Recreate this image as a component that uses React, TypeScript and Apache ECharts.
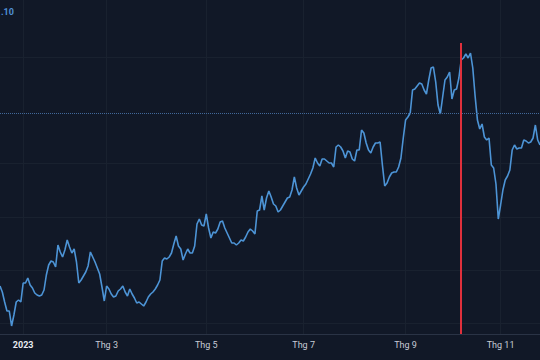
import React, { useEffect, useRef } from "react";
import * as echarts from "echarts";

// Closing values per trading session
const closes = [
  1038.4, 1033.6, 1025.6, 1018.4, 1018.4, 1006.4, 1015.2, 1025.6, 1027.2, 1025.6,
  1040.8, 1040.8, 1044.8, 1039.2, 1036.8, 1032.8, 1031.2, 1030.4, 1031.2, 1035.2,
  1047.2, 1055.2, 1058.4, 1057.6, 1053.6, 1071.2, 1065.6, 1061.6, 1067.2, 1075.2,
  1069.6, 1064.8, 1068.0, 1057.6, 1040.8, 1043.2, 1046.4, 1049.6, 1054.4, 1065.6,
  1061.6, 1057.6, 1052.8, 1048.0, 1037.6, 1026.4, 1038.4, 1036.0, 1032.0, 1029.6,
  1030.4, 1034.4, 1036.0, 1038.4, 1033.6, 1030.4, 1036.0, 1032.0, 1028.8, 1024.8,
  1025.6, 1024.0, 1022.4, 1025.6, 1029.6, 1032.0, 1033.6, 1036.0, 1039.2, 1043.2,
  1058.4, 1060.8, 1060.0, 1061.6, 1064.8, 1072.0, 1078.4, 1070.4, 1068.0, 1059.2,
  1064.0, 1068.0, 1064.8, 1064.8, 1070.4, 1088.0, 1092.0, 1087.2, 1086.4, 1096.0,
  1084.8, 1076.8, 1081.6, 1080.8, 1084.0, 1089.6, 1090.4, 1084.8, 1080.8, 1076.8,
  1072.8, 1072.8, 1071.2, 1072.8, 1075.2, 1074.4, 1077.6, 1081.6, 1084.0, 1082.4,
  1080.0, 1098.4, 1099.2, 1110.4, 1099.2, 1108.8, 1114.4, 1109.6, 1104.0, 1102.4,
  1097.6, 1099.2, 1102.4, 1105.6, 1108.8, 1109.6, 1115.2, 1125.6, 1116.8, 1111.2,
  1114.4, 1117.6, 1120.0, 1124.0, 1128.0, 1132.8, 1140.8, 1136.8, 1134.4, 1140.0,
  1140.0, 1138.4, 1136.8, 1136.8, 1133.6, 1149.6, 1151.2, 1149.6, 1146.4, 1140.8,
  1146.4, 1145.6, 1140.0, 1138.4, 1147.2, 1147.2, 1163.2, 1160.8, 1152.8, 1147.2,
  1144.8, 1149.6, 1152.8, 1152.8, 1153.6, 1135.2, 1118.4, 1120.8, 1125.6, 1128.8,
  1129.6, 1129.6, 1133.6, 1140.8, 1156.8, 1171.2, 1173.6, 1176.8, 1195.2, 1196.0,
  1198.4, 1200.8, 1200.0, 1195.2, 1192.0, 1203.2, 1212.8, 1213.6, 1201.6, 1183.2,
  1176.0, 1189.6, 1203.2, 1205.6, 1209.6, 1188.0, 1195.2, 1196.0, 1204.8, 1219.2,
  1220.8, 1224.0, 1220.8, 1224.8, 1212.8, 1190.4, 1171.2, 1164.0, 1168.0, 1157.6,
  1155.2, 1156.8, 1135.2, 1132.8, 1120.0, 1092.0, 1103.2, 1115.2, 1123.2, 1126.4,
  1131.2, 1147.2, 1151.2, 1148.0, 1148.8, 1148.8, 1155.2, 1154.4, 1152.8, 1153.6,
  1156.8, 1167.2, 1155.2, 1151.2,
];

const sessions = closes.map((_, i) => String(i));

// Month tick labels and the session index at which each one sits
const tickSessions = [10, 46, 89, 131, 175, 216];
const tickLabels = ["2023", "Thg 3", "Thg 5", "Thg 7", "Thg 9", "Thg 11"];

const axisMin = 1000;
const axisMax = 1267.2;
const referenceLevel = 1176.8;
const gridLevels = [1008.8, 1051.2, 1093.6, 1136.8, 1221.6];
const eventSession = 199;
const eventTop = 1232.8;
const headerText = ".10";

export default function App() {
  const ref = useRef<HTMLDivElement>(null);

  useEffect(() => {
    if (!ref.current) return;
    const chart = echarts.init(ref.current, null, { renderer: "svg" });
    const isTick = (i: number) => tickSessions.includes(i);
    chart.setOption({
      animation: false,
      backgroundColor: "#111827",
      grid: { left: 0, right: 0, top: 0, bottom: 26, containLabel: false },
      graphic: [
        {
          type: "text",
          left: 1,
          top: 7,
          style: {
            text: headerText,
            fill: "#4f8fd4",
            font: "bold 9px Roboto",
          },
        },
      ],
      xAxis: {
        type: "category",
        data: sessions,
        boundaryGap: false,
        z: 0,
        axisLine: { show: true, lineStyle: { color: "#2a3345", width: 1 } },
        axisTick: { show: false },
        axisLabel: {
          interval: (i: number) => isTick(i),
          margin: 6,
          formatter: (v: string) => {
            const k = tickSessions.indexOf(Number(v));
            if (k < 0) return "";
            return k === 0 ? `{y|${tickLabels[k]}}` : `{m|${tickLabels[k]}}`;
          },
          rich: {
            y: { color: "#e8eaf0", fontWeight: "bold", fontSize: 9, fontFamily: "Roboto" },
            m: { color: "#c8ccd6", fontSize: 9, fontFamily: "Roboto" },
          },
        },
        splitLine: {
          show: true,
          interval: (i: number) => isTick(i),
          lineStyle: { color: "#19212f", width: 1 },
        },
      },
      yAxis: {
        type: "value",
        min: axisMin,
        max: axisMax,
        show: false,
        splitLine: { show: false },
      },
      series: [
        {
          type: "line",
          name: "grid",
          data: [],
          z: 0,
          silent: true,
          symbol: "none",
          markLine: {
            z: 0,
            silent: true,
            symbol: ["none", "none"],
            label: { show: false },
            animation: false,
            data: gridLevels.map((v) => ({
              yAxis: v,
              lineStyle: { color: "#19212f", width: 1, type: "solid" },
            })),
          },
        },
        {
          type: "line",
          name: "close",
          data: closes,
          z: 3,
          symbol: "none",
          lineStyle: { color: "#4d94d6", width: 1.6 },
          markLine: {
            z: 4,
            silent: true,
            symbol: ["none", "none"],
            label: { show: false },
            animation: false,
            data: [
              {
                yAxis: referenceLevel,
                lineStyle: { color: "#41689a", width: 1, type: "dotted" },
              },
              [
                {
                  xAxis: String(eventSession),
                  yAxis: eventTop,
                  lineStyle: { color: "#e0303c", width: 2, type: "solid" },
                },
                { xAxis: String(eventSession), yAxis: axisMin },
              ],
            ],
          },
        },
      ],
    });
    return () => chart.dispose();
  }, []);

  return (
    <div
      ref={ref}
      style={{ position: "fixed", left: 0, top: 0, width: 540, height: 360 }}
    />
  );
}
